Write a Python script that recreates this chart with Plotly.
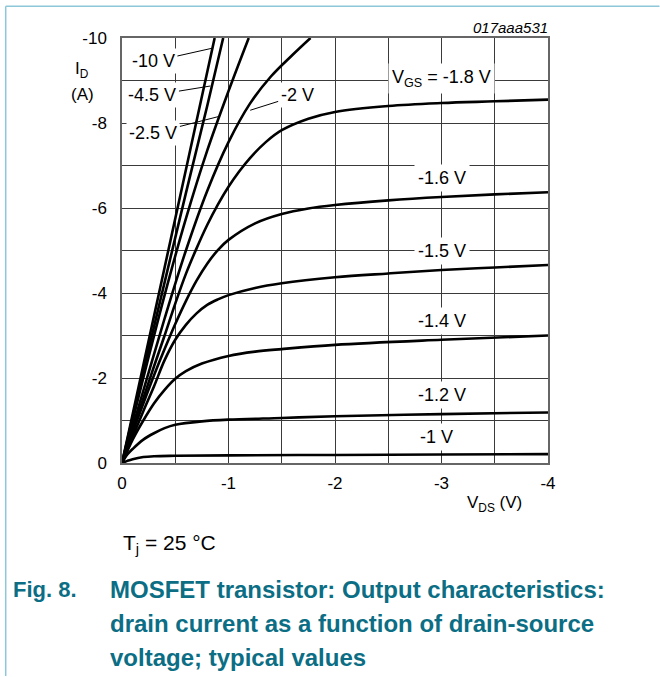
import plotly.graph_objects as go

# ---- data (magnitudes; plotted as negative values) ----
vgs_labels = ["-10 V", "-4.5 V", "-2.5 V", "-2 V", "-1.8 V", "-1.6 V", "-1.5 V", "-1.4 V", "-1.2 V", "-1 V"]

v_10 = [0, 0.2, 0.4, 0.6, 0.87]
i_10 = [0, 2.3, 4.6, 6.9, 10]

v_45 = [0, 0.2, 0.4, 0.6, 0.8, 0.95]
i_45 = [0, 2.15, 4.25, 6.35, 8.4, 10]

v_25 = [0, 0.2, 0.4, 0.6, 0.8, 1.0, 1.19]
i_25 = [0, 2.0, 3.95, 5.75, 7.35, 8.75, 10]

v_20 = [0, 0.2, 0.4, 0.6, 0.8, 1.0, 1.2, 1.4, 1.6, 1.77]
i_20 = [0, 1.7, 3.4, 5.0, 6.4, 7.55, 8.45, 9.1, 9.6, 10]

v_18 = [0, 0.1, 0.2, 0.3, 0.4, 0.5, 0.6, 0.7, 0.8, 0.9, 1.0, 1.1, 1.2, 1.35, 1.5, 1.75, 2, 2.5, 3, 3.5, 4]
i_18 = [0, 0.76, 1.52, 2.27, 3.0, 3.75, 4.45, 5.05, 5.6, 6.08, 6.5, 6.86, 7.17, 7.55, 7.83, 8.1, 8.26, 8.4, 8.47, 8.51, 8.55]

v_16 = [0, 0.1, 0.2, 0.3, 0.4, 0.5, 0.6, 0.7, 0.8, 0.9, 1.0, 1.25, 1.5, 1.75, 2, 2.5, 3, 3.5, 4]
i_16 = [0, 0.72, 1.4, 2.06, 2.68, 3.27, 3.81, 4.29, 4.69, 5.01, 5.25, 5.64, 5.86, 5.99, 6.07, 6.18, 6.26, 6.32, 6.37]

v_15 = [0, 0.1, 0.2, 0.3, 0.4, 0.5, 0.6, 0.7, 0.8, 0.9, 1.0, 1.25, 1.5, 2, 2.5, 3, 3.5, 4]
i_15 = [0, 0.62, 1.22, 1.8, 2.42, 2.9, 3.25, 3.52, 3.72, 3.85, 3.95, 4.12, 4.23, 4.37, 4.46, 4.54, 4.6, 4.66]

v_14 = [0, 0.1, 0.2, 0.3, 0.4, 0.5, 0.6, 0.75, 1, 1.25, 1.5, 2, 3, 4]
i_14 = [0, 0.55, 1.0, 1.4, 1.72, 1.98, 2.16, 2.34, 2.52, 2.62, 2.68, 2.78, 2.9, 3.0]

v_12 = [0, 0.05, 0.1, 0.2, 0.3, 0.4, 0.5, 0.75, 1, 1.5, 2, 3, 4]
i_12 = [0, 0.2, 0.33, 0.55, 0.7, 0.82, 0.9, 0.98, 1.02, 1.06, 1.10, 1.15, 1.19]

v_10v = [0, 0.05, 0.1, 0.2, 0.3, 0.5, 1.0, 2.0, 3.0, 4.0]
i_10v = [0, 0.05, 0.09, 0.14, 0.16, 0.17, 0.18, 0.19, 0.2, 0.21]

curves = [(v_10, i_10), (v_45, i_45), (v_25, i_25), (v_20, i_20), (v_18, i_18),
          (v_16, i_16), (v_15, i_15), (v_14, i_14), (v_12, i_12), (v_10v, i_10v)]

x_tickvals = [0, -0.5, -1, -1.5, -2, -2.5, -3, -3.5, -4]
x_ticktext = ["0", "", "-1", "", "-2", "", "-3", "", "-4"]
y_tickvals = [0, -1, -2, -3, -4, -5, -6, -7, -8, -9, -10]
y_ticktext = ["0", "", "-2", "", "-4", "", "-6", "", "-8", "", "-10"]

FONT = "Arial, Liberation Sans, sans-serif"
TEAL = "#0b6e84"

fig = go.Figure()
for (vv, ii), name in zip(curves, vgs_labels):
    fig.add_trace(go.Scatter(x=[-v for v in vv], y=[-i for i in ii], mode="lines",
                             line=dict(color="black", width=2.6, shape="spline", smoothing=1.0),
                             name=name, showlegend=False, hoverinfo="skip"))

W, H = 660, 677
L, R, T, B = 121.5, 548.3, 37.7, 463.5
pw, ph = R - L, B - T

def px(x):
    return (x - L) / pw

def py(y):
    return (B - y) / ph

annotations = []
# leader-line labels (label at ax/ay, leader end at x/y) in data coordinates
leader = [
    ("-10 V", -0.295, -9.45, -0.848, -9.76),
    ("-4.5 V", -0.286, -8.65, -0.829, -8.87),
    ("-2.5 V", -0.295, -7.76, -0.904, -8.15),
    ("-2 V", -1.645, -8.65, -1.204, -8.30),
]
for txt, lx, ly, ex, ey in leader:
    annotations.append(dict(x=ex, y=ey, ax=lx, ay=ly, xref="x", yref="y", axref="x", ayref="y",
                            text=txt, showarrow=True, arrowhead=0, arrowwidth=1, arrowcolor="black",
                            font=dict(family=FONT, size=18, color="black"),
                            bgcolor="white", borderpad=2, standoff=0, startstandoff=0))

inline = [
    ("V<sub>GS</sub> = -1.8 V", -3.0, -9.05),
    ("-1.6 V", -3.0, -6.7),
    ("-1.5 V", -3.0, -5.0),
    ("-1.4 V", -3.0, -3.35),
    ("-1.2 V", -3.0, -1.6),
    ("-1 V", -2.95, -0.62),
]
for txt, lx, ly in inline:
    annotations.append(dict(x=lx, y=ly, xref="x", yref="y", text=txt, showarrow=False,
                            font=dict(family=FONT, size=18, color="black"),
                            bgcolor="white", borderpad=3))

annotations += [
    dict(x=px(550), y=py(27), xref="paper", yref="paper", xanchor="right", yanchor="middle",
         text="<i>017aaa531</i>", showarrow=False, font=dict(family=FONT, size=15, color="black")),
    dict(x=px(81), y=py(70), xref="paper", yref="paper", xanchor="center", yanchor="middle",
         text="I<sub>D</sub>", showarrow=False, font=dict(family=FONT, size=17, color="black")),
    dict(x=px(82), y=py(94), xref="paper", yref="paper", xanchor="center", yanchor="middle",
         text="(A)", showarrow=False, font=dict(family=FONT, size=17, color="black")),
    dict(x=px(495), y=py(505), xref="paper", yref="paper", xanchor="center", yanchor="middle",
         text="V<sub>DS</sub> (V)", showarrow=False, font=dict(family=FONT, size=17, color="black")),
    dict(x=px(120), y=py(545), xref="paper", yref="paper", xanchor="left", yanchor="middle",
         text="T<sub>j</sub> = 25 °C", showarrow=False, font=dict(family=FONT, size=21, color="black")),
    dict(x=px(10), y=py(590), xref="paper", yref="paper", xanchor="left", yanchor="middle",
         text="<b>Fig. 8.</b>", showarrow=False, font=dict(family=FONT, size=22, color=TEAL)),
    dict(x=px(107), y=py(590), xref="paper", yref="paper", xanchor="left", yanchor="middle",
         text="<b>MOSFET transistor: Output characteristics:</b>", showarrow=False,
         font=dict(family=FONT, size=24, color=TEAL)),
    dict(x=px(107), y=py(624), xref="paper", yref="paper", xanchor="left", yanchor="middle",
         text="<b>drain current as a function of drain-source</b>", showarrow=False,
         font=dict(family=FONT, size=24, color=TEAL)),
    dict(x=px(107), y=py(658), xref="paper", yref="paper", xanchor="left", yanchor="middle",
         text="<b>voltage; typical values</b>", showarrow=False,
         font=dict(family=FONT, size=24, color=TEAL)),
]

shapes = [
    dict(type="line", xref="paper", yref="paper", x0=px(5), x1=px(5), y0=py(6), y1=py(677),
         line=dict(color="#8ec8d8", width=1.5)),
    dict(type="line", xref="paper", yref="paper", x0=px(5), x1=px(660), y0=py(6), y1=py(6),
         line=dict(color="#8ec8d8", width=1.5)),
]

fig.update_layout(
    width=W, height=H, autosize=False,
    margin=dict(l=L, r=W - R, t=T, b=H - B, pad=0),
    paper_bgcolor="white", plot_bgcolor="white",
    font=dict(family=FONT, size=17, color="black"),
    annotations=annotations, shapes=shapes, showlegend=False,
    xaxis=dict(range=[0, -4], tickvals=x_tickvals, ticktext=x_ticktext, showgrid=True,
               gridcolor="#3a3a3a", gridwidth=1, zeroline=False, showline=True,
               linecolor="#666666", linewidth=1.5, mirror=True, ticks="", ticklabelstandoff=4,
               tickfont=dict(family=FONT, size=17, color="black"), fixedrange=True),
    yaxis=dict(range=[0, -10], tickvals=y_tickvals, ticktext=y_ticktext, showgrid=True,
               gridcolor="#3a3a3a", gridwidth=1, zeroline=False, showline=True,
               linecolor="#666666", linewidth=1.5, mirror=True, ticks="", ticklabelstandoff=10,
               tickfont=dict(family=FONT, size=17, color="black"), fixedrange=True),
)

fig.write_html("out.html", config={"displayModeBar": False},
               post_script="document.body.style.margin='0px';")
